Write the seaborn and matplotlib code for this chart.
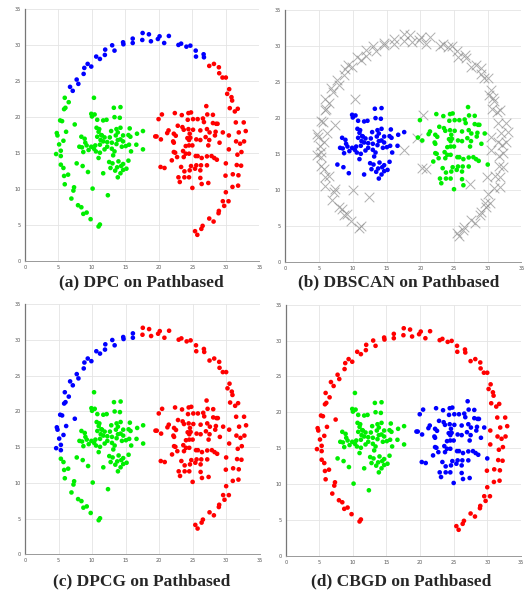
import pandas as pd
import matplotlib
matplotlib.use("Agg")
import matplotlib.pyplot as plt
import seaborn as sns

# Pathbased points, read off the picture and split into pieces of the ring / blobs
# lower-left part of the ring
arc_low_x = [5.35, 5.74, 6.44, 5.84, 5.94, 7.33, 7.23, 6.93, 7.92, 8.42, 9.21, 8.71, 9.80, 11.19, 10.99]
arc_low_y = [13.38, 12.92, 11.99, 11.81, 10.65, 10.23, 9.77, 8.66, 7.73, 7.45, 6.71, 6.53, 5.79, 5.05, 4.77]
# left side of the ring
arc_left_x = [5.94, 6.53, 6.04, 5.84, 5.25, 5.54, 7.43, 4.75, 6.14, 4.85, 5.74, 5.10, 5.35, 4.65, 5.35]
arc_left_y = [22.69, 22.08, 21.30, 21.11, 19.54, 19.44, 18.98, 17.78, 17.96, 17.45, 16.71, 16.20, 15.32, 14.86, 14.58]
# upper-left part of the ring
arc_upleft_x = [6.73, 7.13, 7.72, 7.97, 8.76, 8.86, 9.36, 9.90, 10.64, 11.19, 11.93, 11.98, 13.02, 13.37,
                14.65, 14.70, 16.09, 16.09]
arc_upleft_y = [24.21, 23.66, 25.23, 24.63, 26.02, 26.85, 27.41, 27.04, 28.43, 28.10, 28.66, 29.40, 30.00, 29.26,
                30.42, 30.14, 30.93, 30.32]
# top of the ring
arc_top_x = [17.57, 17.52, 18.51, 18.81, 19.85, 20.10, 20.79, 21.49, 22.92, 23.32, 24.11, 24.70, 25.50, 25.54,
             26.68, 26.73]
arc_top_y = [31.71, 30.74, 31.53, 30.56, 30.88, 31.25, 30.32, 31.30, 30.05, 30.23, 29.81, 29.95, 29.26, 28.43,
             28.75, 28.33]
# right side of the ring
arc_right_x = [27.52, 28.22, 28.96, 29.01, 29.50, 30.00, 30.50, 30.20, 30.84, 30.94, 30.59, 31.78, 31.34, 32.67,
               31.49, 32.97, 31.93, 30.45, 32.72, 32.13, 31.53, 30.45, 32.33, 31.73, 31.63, 32.28, 29.95, 31.04,
               31.88, 30.99, 31.83, 30.00, 29.55, 30.40, 29.75, 28.96, 28.91, 28.17, 27.52, 26.53, 26.34, 25.40,
               25.74]
arc_right_y = [27.13, 27.41, 26.94, 26.11, 25.51, 25.51, 23.89, 23.24, 22.78, 22.31, 21.25, 21.16, 20.79, 19.26,
               19.26, 18.06, 17.87, 17.45, 16.62, 16.30, 16.62, 15.51, 15.14, 14.77, 13.33, 13.24, 11.85, 12.04,
               11.90, 10.28, 10.46, 9.54, 8.29, 8.29, 7.64, 6.94, 6.62, 5.46, 5.88, 4.86, 4.44, 4.12, 3.61]
# left blob
left_x = [9.90, 10.40, 10.00, 10.79, 11.68, 12.18, 13.27, 14.26, 13.37, 14.16, 10.69, 11.09, 10.99, 12.87, 13.66,
          14.26, 13.86, 15.64, 17.62, 15.45, 11.39, 16.73, 7.72, 8.61, 9.41, 11.68, 8.42, 8.91, 9.01, 8.12, 8.51,
          8.71, 9.21, 9.50, 9.90, 10.30, 10.50, 10.59, 10.79, 11.29, 11.19, 11.19, 10.99, 11.88, 12.28, 12.28,
          12.67, 12.97, 12.97, 13.37, 13.17, 13.66, 13.86, 14.26, 14.65, 14.46, 15.05, 15.54, 15.74, 15.84, 16.63,
          12.57, 13.07, 13.96, 12.77, 13.47, 13.76, 14.36, 14.65, 14.65, 15.15, 15.45, 14.26, 13.86, 11.68, 11.88,
          13.56, 14.65, 11.49]
left_y = [20.46, 20.37, 20.09, 19.63, 19.54, 19.63, 21.30, 21.39, 20.00, 19.91, 18.52, 18.33, 17.96, 18.06, 18.33,
          18.52, 17.87, 18.43, 18.06, 17.50, 17.50, 17.69, 13.56, 13.19, 12.36, 12.18, 17.27, 16.99, 16.44, 15.88,
          15.79, 15.14, 16.06, 15.42, 15.88, 15.60, 16.06, 15.23, 17.27, 16.81, 16.16, 15.05, 14.31, 15.51, 16.53,
          15.88, 17.18, 16.44, 15.60, 15.23, 14.68, 16.25, 16.81, 16.90, 16.62, 15.88, 15.97, 16.16, 17.27, 15.23,
          16.16, 13.75, 13.56, 13.84, 12.92, 12.55, 13.01, 13.19, 13.47, 12.64, 12.82, 13.94, 12.18, 11.62, 16.62,
          17.18, 17.45, 17.45, 17.45]
left_out_x = [10.30, 10.10, 12.38, 17.62]
left_out_y = [22.69, 10.05, 9.12, 15.51]
# right blob
right_x = [19.95, 22.38, 23.42, 24.41, 24.80, 27.23, 28.07, 27.08, 24.31, 25.10, 25.79, 26.58, 26.73, 28.07, 28.56,
           28.76, 22.82, 23.51, 23.71, 24.41, 25.10, 26.19, 27.18, 27.57, 28.47, 29.55, 21.44, 21.24, 22.23, 22.52,
           24.60, 24.70, 26.98, 28.37, 19.65, 20.30, 22.13, 22.23, 24.26, 24.50, 25.59, 26.19, 27.52, 29.06, 24.01,
           24.50, 25.00, 27.38, 22.23, 22.43, 23.61, 24.01, 25.50, 25.79, 26.39, 27.18, 27.87, 28.27, 28.66, 22.72,
           21.93, 23.71, 24.50, 30.00, 23.32, 24.80, 25.59, 25.40, 26.29, 27.18, 23.81, 24.60, 26.19, 22.92, 23.81,
           24.50, 23.12, 26.19, 26.39, 25.00]
right_y = [19.72, 20.56, 20.28, 20.56, 20.65, 20.37, 20.32, 21.53, 19.63, 19.72, 19.72, 19.81, 19.31, 19.17, 19.07,
           19.07, 18.80, 18.61, 18.24, 18.33, 18.24, 18.15, 18.33, 17.87, 17.96, 17.87, 18.15, 17.78, 17.69, 17.41,
           17.69, 17.13, 17.22, 17.45, 17.31, 16.90, 16.62, 16.44, 17.08, 16.81, 16.90, 16.81, 16.81, 16.44, 15.97,
           16.06, 16.06, 16.06, 15.14, 15.05, 15.28, 14.91, 14.58, 14.58, 14.31, 14.54, 14.58, 14.31, 14.07, 14.44,
           13.98, 14.44, 14.91, 13.56, 13.06, 13.19, 13.29, 12.82, 13.29, 13.29, 12.45, 12.59, 12.59, 11.62, 11.62,
           11.62, 10.97, 11.53, 10.69, 10.14]
right_out_x = [20.45, 19.46, 20.25, 20.84, 27.38]
right_out_y = [20.37, 17.31, 13.06, 12.92, 10.83]

titles = ["(a) DPC on Pathbased", "(b) DBSCAN on Pathbased",
          "(c) DPCG on Pathbased", "(d) CBGD on Pathbased"]

# colour of each piece in each panel ("noise" = DBSCAN cross)
panel_colors = [
    {"arc_low": "g", "arc_left": "g", "arc_upleft": "b", "arc_top": "b", "arc_right": "r",
     "left": "g", "left_out": "g", "right": "r", "right_out": "r"},
    {"arc_low": "noise", "arc_left": "noise", "arc_upleft": "noise", "arc_top": "noise", "arc_right": "noise",
     "left": "b", "left_out": "noise", "right": "g", "right_out": "noise"},
    {"arc_low": "g", "arc_left": "b", "arc_upleft": "b", "arc_top": "r", "arc_right": "r",
     "left": "g", "left_out": "g", "right": "r", "right_out": "r"},
    {"arc_low": "r", "arc_left": "r", "arc_upleft": "r", "arc_top": "r", "arc_right": "r",
     "left": "g", "left_out": "g", "right": "b", "right_out": "b"},
]

pieces = {
    "arc_low": (arc_low_x, arc_low_y), "arc_left": (arc_left_x, arc_left_y),
    "arc_upleft": (arc_upleft_x, arc_upleft_y), "arc_top": (arc_top_x, arc_top_y),
    "arc_right": (arc_right_x, arc_right_y), "left": (left_x, left_y), "left_out": (left_out_x, left_out_y),
    "right": (right_x, right_y), "right_out": (right_out_x, right_out_y),
}
frames = []
for name, (xs, ys) in pieces.items():
    frames.append(pd.DataFrame({"x": xs, "y": ys, "piece": name}))
df = pd.concat(frames, ignore_index=True)

palette = {"r": "#ff0000", "g": "#00ee00", "b": "#0000ff"}

sns.set_theme(style="whitegrid")
plt.rcParams["axes.edgecolor"] = "#888888"
plt.rcParams["grid.color"] = "#e4e4e4"
plt.rcParams["grid.linewidth"] = 0.6

fig = plt.figure(figsize=(5.26, 5.94), dpi=100)
boxes = [
    [0.0475, 0.561, 0.4455, 0.4232],
    [0.5424, 0.5584, 0.4490, 0.4248],
    [0.0475, 0.0668, 0.4462, 0.4209],
    [0.5432, 0.0645, 0.4470, 0.4226],
]
title_pos = [(141, 282), (399, 282), (142, 581), (401, 581)]

for i in range(4):
    ax = fig.add_axes(boxes[i])
    d = df.copy()
    d["lab"] = d["piece"].map(panel_colors[i])
    noise = d[d["lab"] == "noise"]
    pts = d[d["lab"] != "noise"]
    if len(noise):
        sns.scatterplot(data=noise, x="x", y="y", marker="x", s=48, color="#8c8c8c",
                        linewidth=0.7, alpha=0.7, ax=ax, legend=False)
    sns.scatterplot(data=pts, x="x", y="y", hue="lab", palette=palette, s=11,
                    linewidth=0, ax=ax, legend=False)
    ax.set_xlim(0, 35)
    ax.set_ylim(0, 35)
    ax.set_xticks(range(0, 36, 5))
    ax.set_yticks(range(0, 36, 5))
    ax.set_xlabel("")
    ax.set_ylabel("")
    ax.tick_params(labelsize=3.5, colors="#555555", length=1.5, width=0.4, pad=1.5)
    for side in ["top", "right"]:
        ax.spines[side].set_visible(False)
    ax.spines["left"].set_color("#777777")
    ax.spines["bottom"].set_color("#999999")
    ax.spines["left"].set_linewidth(0.9)
    ax.spines["bottom"].set_linewidth(0.7)
    cx, cy = title_pos[i]
    fig.text(cx / 526, 1 - cy / 594, titles[i], ha="center", va="center",
             family="Liberation Serif", fontweight="bold", fontsize=12.5)

fig.savefig("out.png", dpi=100)
